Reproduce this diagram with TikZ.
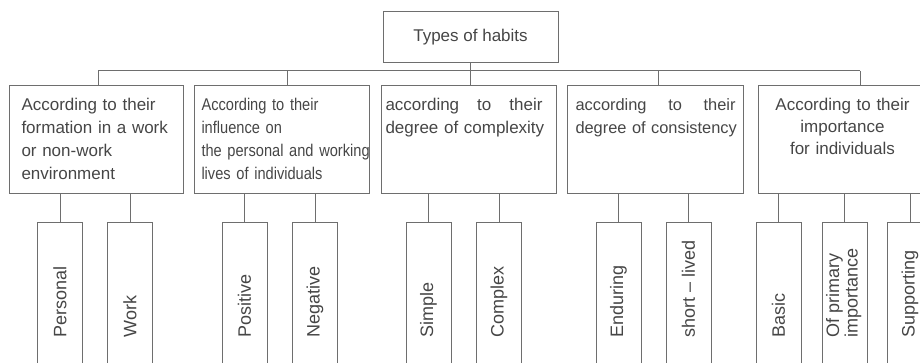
\documentclass[tikz,border=0pt]{standalone}
\usepackage{fontspec}
\setmainfont{Liberation Sans}
\newfontfamily\narrowfont[FakeStretch=0.86]{Liberation Sans}
\definecolor{linegray}{RGB}{110,110,110}
\definecolor{textgray}{RGB}{70,70,70}

\begin{document}
\begin{tikzpicture}[x=1pt,y=-1pt]
	\tikzstyle{typebox}=[draw=linegray,line width=1pt,text=textgray,minimum width=175pt,minimum height=51pt,inner sep=0pt,font=\fontsize{17}{23}\selectfont]
	\tikzstyle{kindbox}=[draw=linegray,line width=1pt,text=textgray,anchor=north west,inner ysep=0pt,text height=25pt,text depth=83pt,font=\fontsize{17}{23}\selectfont]
	\tikzstyle{leafbox}=[draw=linegray,line width=1pt,text=textgray,anchor=north,minimum width=45pt,inner sep=0pt,text height=115pt,text depth=29pt,font=\fontsize{18}{18}\selectfont]
	\tikzstyle{edge}=[draw=linegray,line width=1pt]
	\clip (0,0) rectangle (920,363);
	\begin{scope}
		\node [typebox] (types) at (470.5,37) {Types of habits};
		% second level
		\node [kindbox,inner xsep=12pt,text width=150pt,align=left] (formation) at (9,85) {According to their\\formation in a work\\or non-work\\environment};
		\node [kindbox,inner xsep=7pt,text width=161pt,align=left,font={\narrowfont\fontsize{17}{23}\selectfont}] (influence) at (194,85) {According to their\\influence on\\\mbox{the personal and working}\\lives of individuals};
		\node [kindbox,inner xsep=4pt,text width=167pt,align=left] (complexity) at (381,85) {\hbox to 157pt{according\hfill to\hfill their}\\degree of complexity};
		\node [kindbox,inner xsep=8pt,text width=160pt,align=left,font=\fontsize{16.4}{23}\selectfont] (consistency) at (567,85) {\hbox to 160pt{according\hfill to\hfill their}\\\mbox{degree of consistency}};
		\node [kindbox,inner xsep=6pt,text width=156pt,align=center,font=\fontsize{17}{22}\selectfont] (importance) at (758,85) {According to their\\importance\\for individuals};
		% third level
		\node [leafbox] (personal) at (60,222) {\rotatebox{90}{Personal}};
		\node [leafbox] (work) at (130,222) {\rotatebox{90}{Work}};
		\node [leafbox] (positive) at (244.5,222) {\rotatebox{90}{Positive}};
		\node [leafbox] (negative) at (315,222) {\rotatebox{90}{Negative}};
		\node [leafbox] (simple) at (428.5,222) {\rotatebox{90}{Simple}};
		\node [leafbox] (complex) at (499,222) {\rotatebox{90}{Complex}};
		\node [leafbox] (enduring) at (618.5,222) {\rotatebox{90}{Enduring}};
		\node [leafbox] (shortlived) at (688.5,222) {\rotatebox{90}{short -- lived}};
		\node [leafbox] (basic) at (778.5,222) {\rotatebox{90}{Basic}};
		\node [leafbox] (primary) at (844.5,222) {\rotatebox{90}{\begin{tabular}{@{}l@{}}Of primary\\importance\end{tabular}}};
		\node [leafbox] (supporting) at (910,222) {\rotatebox{90}{Supporting}};
		% bus
		\coordinate (j1) at (98,71);
		\coordinate (j2) at (287,71);
		\coordinate (j3) at (470.5,71);
		\coordinate (j4) at (658,71);
		\coordinate (j5) at (860,71);
		\path[edge] (types) edge (j3);
		\path[edge] (j1) edge (j5);
		\path[edge] (j1) edge (j1 |- formation.north);
		\path[edge] (j2) edge (j2 |- influence.north);
		\path[edge] (j3) edge (j3 |- complexity.north);
		\path[edge] (j4) edge (j4 |- consistency.north);
		\path[edge] (j5) edge (j5 |- importance.north);
		% leaves
		\path[edge] (personal.north |- formation.south) edge (personal);
		\path[edge] (work.north |- formation.south) edge (work);
		\path[edge] (positive.north |- influence.south) edge (positive);
		\path[edge] (negative.north |- influence.south) edge (negative);
		\path[edge] (simple.north |- complexity.south) edge (simple);
		\path[edge] (complex.north |- complexity.south) edge (complex);
		\path[edge] (enduring.north |- consistency.south) edge (enduring);
		\path[edge] (shortlived.north |- consistency.south) edge (shortlived);
		\path[edge] (basic.north |- importance.south) edge (basic);
		\path[edge] (primary.north |- importance.south) edge (primary);
		\path[edge] (supporting.north |- importance.south) edge (supporting);
	\end{scope}
\end{tikzpicture}
\end{document}
